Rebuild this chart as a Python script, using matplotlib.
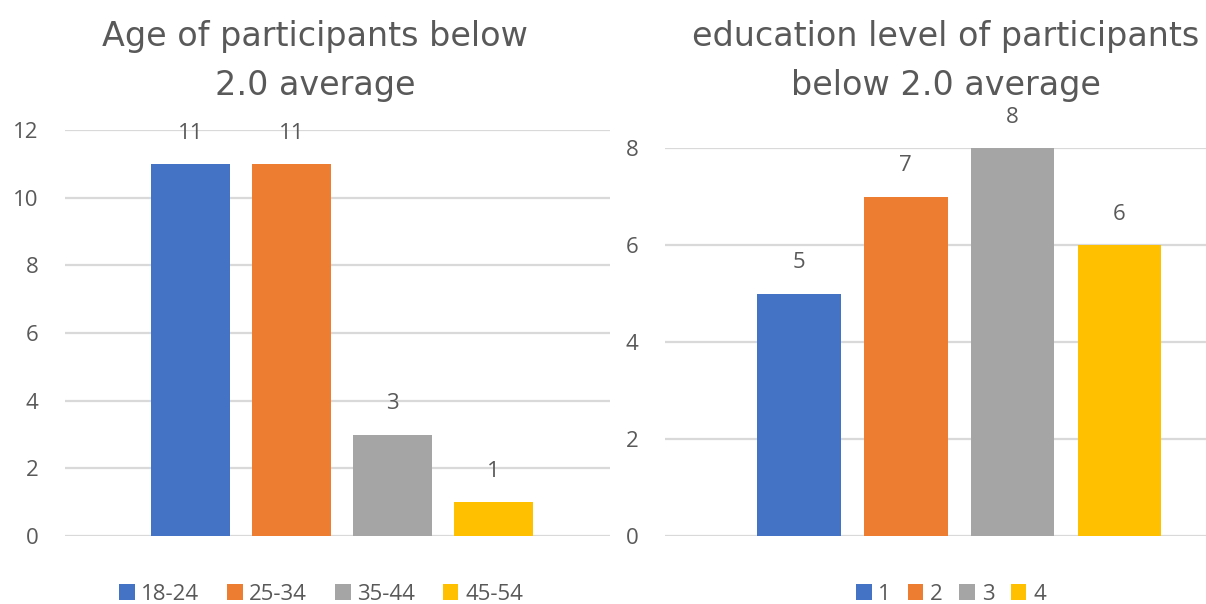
import matplotlib
matplotlib.use("Agg")
import matplotlib.pyplot as plt

age_labels = ["18-24", "25-34", "35-44", "45-54"]
age_counts = [11, 11, 3, 1]
edu_labels = ["1", "2", "3", "4"]
edu_counts = [5, 7, 8, 6]
left_title = "Age of participants below\n2.0 average"
right_title = "education level of participants\nbelow 2.0 average"
left_yticks = [0, 2, 4, 6, 8, 10, 12]
right_yticks = [0, 2, 4, 6, 8]

colors = ["#4472C4", "#ED7D31", "#A5A5A5", "#FFC000"]
text_color = "#595959"
grid_color = "#D9D9D9"

plt.rcParams['font.family'] = ['Open Sans', 'DejaVu Sans']

W, H = 1206, 604
fig = plt.figure(figsize=(W / 100, H / 100), dpi=100)

def frac_ax(x0, x1, ytop, ybot):
    return fig.add_axes([x0 / W, (H - ybot) / H, (x1 - x0) / W, (ybot - ytop) / H])

def draw(ax, labels, values, yticks, xlim, width, title, title_x, legend_x, colsp):
    xs = list(range(len(values)))
    bars = []
    for i, (lab, v) in enumerate(zip(labels, values)):
        b = ax.bar(xs[i], v, width=width, color=colors[i], label=lab, zorder=3)
        bars.append(b)
        ax.annotate(str(v), (xs[i], v), xytext=(0, 22), textcoords="offset points",
                    ha="center", va="center", fontsize=16, color=text_color)
    ax.set_xlim(*xlim)
    ax.set_ylim(yticks[0], yticks[-1])
    ax.set_yticks(yticks)
    ax.set_xticks([])
    ax.yaxis.grid(True, color=grid_color, linewidth=1.6, zorder=0)
    ax.set_axisbelow(True)
    for s in ax.spines.values():
        s.set_visible(False)
    ax.tick_params(axis="y", length=0, pad=19, labelsize=16, labelcolor=text_color)
    ax.patch.set_alpha(0)
    fig.text(title_x / W, (H - 61) / H, title, ha="center", va="center",
             fontsize=24, color=text_color, linespacing=1.6,
             family=['DejaVu Sans'])
    fig.legend(handles=[b[0] for b in bars], labels=labels, loc="center",
               bbox_to_anchor=(legend_x / W, 10 / H), ncol=len(labels), frameon=False,
               fontsize=16, labelcolor=text_color, handlelength=0.7, handleheight=0.7,
               handletextpad=0.3, columnspacing=colsp, borderaxespad=0)

ax1 = frac_ax(65, 610, 130, 536)
draw(ax1, age_labels, age_counts, left_yticks, (-1.243, 4.153), 0.79,
     left_title, 315, 321, 1.25)

ax2 = frac_ax(665, 1206, 148, 536)
draw(ax2, edu_labels, edu_counts, right_yticks, (-1.255, 3.81), 0.78,
     right_title, 946, 951, 0.75)

fig.savefig("out.png", dpi=100)
